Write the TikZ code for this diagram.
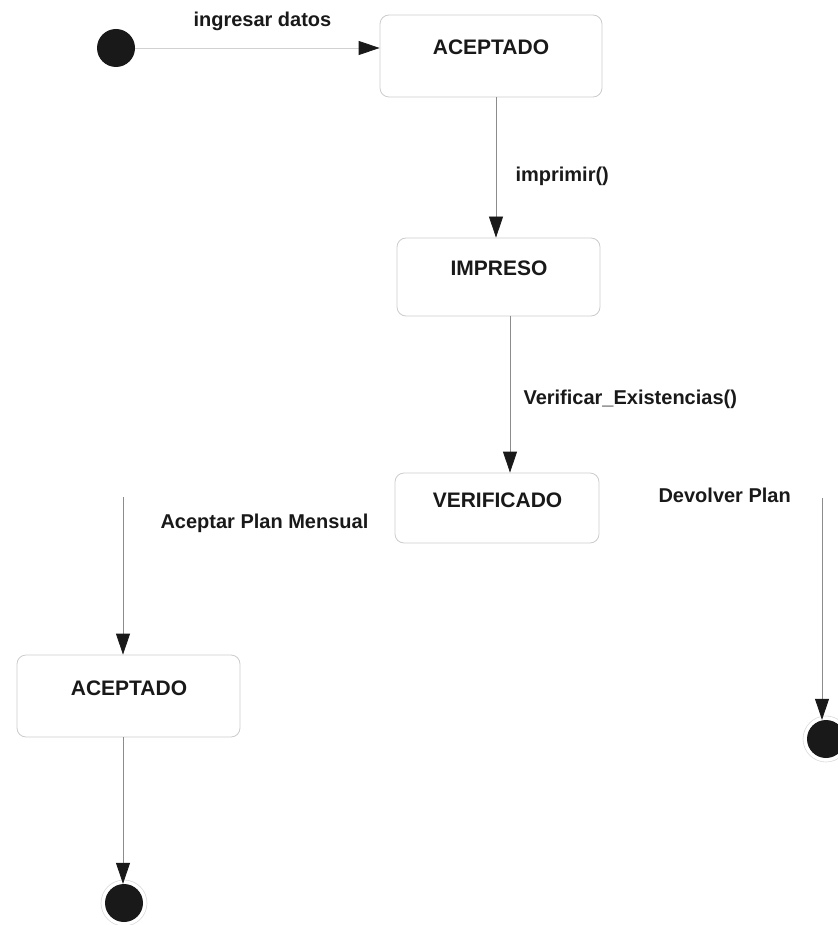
\documentclass[tikz,border=0pt]{standalone}
\usepackage{fontspec}
\setmainfont{Liberation Sans}
\usetikzlibrary{arrows.meta}
\begin{document}
\begin{tikzpicture}[x=1pt,y=-1pt,
  statebox/.style={draw=black!20,line width=0.8pt,rounded corners=9pt,fill=white,inner sep=0pt},
  statename/.style={anchor=base,font=\fontsize{21}{24}\selectfont\bfseries,text=black!90},
  translabel/.style={anchor=base west,font=\fontsize{20}{24}\selectfont\bfseries,text=black!90},
  pseudo/.style={circle,fill=black!90,inner sep=0pt,minimum size=38pt},
  ring/.style={circle,draw=black!15,line width=0.6pt,inner sep=0pt,minimum size=46pt},
  flow/.style={draw=black!45,line width=0.8pt,-{Triangle[length=21pt,width=14pt,black!90]}}]
\useasboundingbox (0,0) rectangle (837,925);

% states
\node[statebox,minimum width=222pt,minimum height=82pt] (acc1) at (491,56) {};
\node[statebox,minimum width=203pt,minimum height=78pt] (impreso) at (498.5,277) {};
\node[statebox,minimum width=204pt,minimum height=70pt] (verif) at (497,508) {};
\node[statebox,minimum width=223pt,minimum height=82pt] (acc2) at (128.5,696) {};

\node[statename] (acc1t) at (491,55) {ACEPTADO};
\node[statename] (impresot) at (499,275) {IMPRESO};
\node[statename] (veriftt) at (497.5,507) {VERIFICADO};
\node[statename] (acc2t) at (129,695) {ACEPTADO};

% initial and final pseudostates
\node[pseudo] (start) at (116,48) {};
\node[ring] (end1r) at (124,903) {};
\node[pseudo] (end1) at (124,903) {};
\node[ring] (end2r) at (826,739) {};
\node[pseudo] (end2) at (826,739) {};

% transition guide points
\coordinate (xa) at (496,0);
\coordinate (xb) at (510,0);
\coordinate (la) at (123,497);
\coordinate (ra) at (822,498);

% transitions
\draw[flow,draw=black!18] (start.east) -- (start.east -| acc1.west);
\draw[flow] (acc1.south -| xa) -- (impreso.north -| xa);
\draw[flow] (impreso.south -| xb) -- (verif.north -| xb);
\draw[flow] (la) -- (acc2.north -| la);
\draw[flow] (acc2.south -| la) -- (end1.north -| la);
\draw[flow] (ra) -- (end2.north -| ra);

% transition labels
\node[translabel] (l1) at (190,27) {ingresar datos};
\node[translabel] (l2) at (512,182) {imprimir()};
\node[translabel] (l3) at (520,404) {Verificar\_Existencias()};
\node[translabel] (l4) at (157,528) {Aceptar Plan Mensual};
\node[translabel] (l5) at (655,502) {Devolver Plan};
\end{tikzpicture}
\end{document}
